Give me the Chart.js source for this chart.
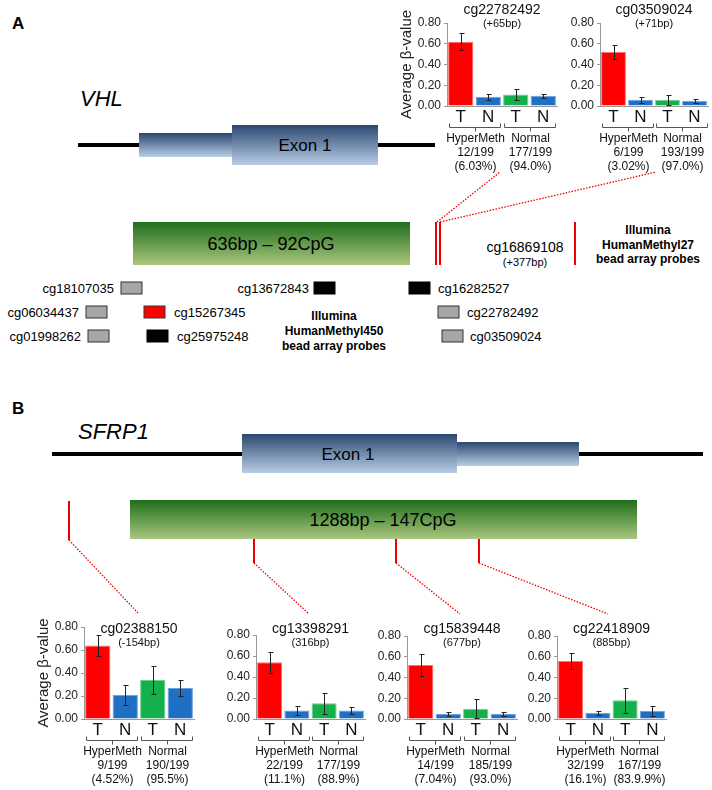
<!DOCTYPE html>
<html>
<head>
<meta charset="utf-8">
<script src="https://cdn.jsdelivr.net/npm/chart.js@4.4.0/dist/chart.umd.min.js"></script>
<style>
  html, body { margin: 0; padding: 0; background: #fff; }
  #page { position: relative; width: 712px; height: 790px; overflow: hidden; font-family: 'Liberation Sans', Arial, sans-serif; }
  #diagram { position: absolute; left: 0; top: 0; }
  canvas.probe { position: absolute; }
</style>
</head>
<body>
<div id="page">
<svg id="diagram" width="712" height="790" xmlns="http://www.w3.org/2000/svg" font-family="Liberation Sans, Arial, sans-serif">
  <defs>
    <linearGradient id="exonGrad" x1="0" y1="0" x2="0" y2="1">
      <stop offset="0" stop-color="#2b4870"/>
      <stop offset="1" stop-color="#b9cde6"/>
    </linearGradient>
    <linearGradient id="cpgGrad" x1="0" y1="0" x2="0" y2="1">
      <stop offset="0" stop-color="#1f6e1c"/>
      <stop offset="1" stop-color="#a9c67e"/>
    </linearGradient>
  </defs>

  <!-- panel A : VHL -->
  <text x="12" y="29" font-size="17" font-weight="bold">A</text>
  <text x="80" y="106" font-size="22" font-style="italic">VHL</text>
  <line x1="78" y1="145" x2="435" y2="145" stroke="#000" stroke-width="4"/>
  <rect x="139" y="133" width="93" height="24" fill="url(#exonGrad)"/>
  <rect x="232" y="125" width="146" height="40" fill="url(#exonGrad)"/>
  <text x="305" y="151" font-size="17" text-anchor="middle">Exon 1</text>

  <rect x="133" y="222" width="277" height="43" fill="url(#cpgGrad)"/>
  <text x="271" y="250" font-size="18" text-anchor="middle">636bp – 92CpG</text>
  <line x1="436" y1="222" x2="436" y2="265" stroke="#e00" stroke-width="2"/>
  <line x1="440" y1="222" x2="440" y2="265" stroke="#e00" stroke-width="2"/>
  <line x1="437" y1="222" x2="500" y2="172" stroke="#e00" stroke-width="1.3" stroke-dasharray="1.5,1.5"/>
  <line x1="440" y1="222" x2="656" y2="172" stroke="#e00" stroke-width="1.3" stroke-dasharray="1.5,1.5"/>
  <text x="525" y="252" font-size="14" text-anchor="middle">cg16869108</text>
  <text x="525" y="266" font-size="11" text-anchor="middle">(+377bp)</text>
  <line x1="575" y1="222" x2="575" y2="265" stroke="#e00" stroke-width="2"/>
  <g font-size="12" font-weight="bold" text-anchor="middle">
    <text x="648" y="234">Illumina</text>
    <text x="648" y="249">HumanMethyl27</text>
    <text x="648" y="263">bead array probes</text>
  </g>

  <g font-size="13">
    <text x="114" y="293" text-anchor="end">cg18107035</text>
    <rect x="121" y="282" width="21" height="12" fill="#a6a6a6" stroke="#333"/>
    <text x="309" y="293" text-anchor="end">cg13672843</text>
    <rect x="314" y="282" width="21" height="12" fill="#000" stroke="#000"/>
    <rect x="409" y="282" width="21" height="12" fill="#000" stroke="#000"/>
    <text x="438" y="293">cg16282527</text>

    <text x="79" y="317" text-anchor="end">cg06034437</text>
    <rect x="86" y="306" width="21" height="12" fill="#a6a6a6" stroke="#333"/>
    <rect x="144" y="306" width="21" height="12" fill="#f00" stroke="#333"/>
    <text x="174" y="317">cg15267345</text>
    <rect x="438" y="306" width="21" height="12" fill="#a6a6a6" stroke="#333"/>
    <text x="467" y="317">cg22782492</text>

    <text x="81" y="341" text-anchor="end">cg01998262</text>
    <rect x="88" y="330" width="21" height="12" fill="#a6a6a6" stroke="#333"/>
    <rect x="147" y="330" width="21" height="12" fill="#000" stroke="#000"/>
    <text x="177" y="341">cg25975248</text>
    <rect x="442" y="330" width="21" height="12" fill="#a6a6a6" stroke="#333"/>
    <text x="470" y="341">cg03509024</text>
  </g>
  <g font-size="12" font-weight="bold" text-anchor="middle">
    <text x="334" y="320">Illumina</text>
    <text x="334" y="335">HumanMethyl450</text>
    <text x="334" y="350">bead array probes</text>
  </g>

  <!-- panel B : SFRP1 -->
  <text x="12" y="414" font-size="17" font-weight="bold">B</text>
  <text x="78" y="439" font-size="22" font-style="italic">SFRP1</text>
  <line x1="52" y1="454" x2="703" y2="454" stroke="#000" stroke-width="4"/>
  <rect x="242" y="434" width="215" height="39" fill="url(#exonGrad)"/>
  <rect x="457" y="442" width="122" height="24" fill="url(#exonGrad)"/>
  <text x="348" y="460" font-size="17" text-anchor="middle">Exon 1</text>

  <rect x="130" y="500" width="507" height="39" fill="url(#cpgGrad)"/>
  <text x="383" y="526" font-size="18" text-anchor="middle">1288bp – 147CpG</text>
  <g stroke="#e00" stroke-width="2">
    <line x1="69" y1="501" x2="69" y2="540"/>
    <line x1="254" y1="539" x2="254" y2="563"/>
    <line x1="396" y1="539" x2="396" y2="563"/>
    <line x1="479" y1="539" x2="479" y2="563"/>
  </g>
  <g stroke="#e00" stroke-width="1.3" stroke-dasharray="1.5,1.5">
    <line x1="69" y1="540" x2="138" y2="613"/>
    <line x1="254" y1="563" x2="308" y2="613"/>
    <line x1="396" y1="563" x2="460" y2="614"/>
    <line x1="479" y1="563" x2="608" y2="614"/>
  </g>
</svg>
</div>

<script>
// bar chart data, one entry per probe
const arms = ['T', 'N', 'T', 'N'];
const probeIds = ['cg22782492', 'cg03509024', 'cg02388150', 'cg13398291', 'cg15839448', 'cg22418909'];
const probeOffsets = ['(+65bp)', '(+71bp)', '(-154bp)', '(316bp)', '(677bp)', '(885bp)'];
const meanBeta = [
    [0.62, 0.09, 0.11, 0.10],
    [0.52, 0.06, 0.06, 0.05],
    [0.64, 0.21, 0.34, 0.27],
    [0.54, 0.08, 0.15, 0.08],
    [0.52, 0.05, 0.10, 0.05],
    [0.56, 0.06, 0.18, 0.08]
];
const errBeta = [
    [0.08, 0.03, 0.05, 0.02],
    [0.07, 0.03, 0.05, 0.02],
    [0.09, 0.09, 0.12, 0.07],
    [0.10, 0.04, 0.10, 0.03],
    [0.11, 0.02, 0.09, 0.02],
    [0.08, 0.02, 0.12, 0.05]
];
const groupNames = ['HyperMeth', 'Normal'];
const hyperCounts = ['12/199', '6/199', '9/199', '22/199', '14/199', '32/199'];
const hyperPct = ['(6.03%)', '(3.02%)', '(4.52%)', '(11.1%)', '(7.04%)', '(16.1%)'];
const normalCounts = ['177/199', '193/199', '190/199', '177/199', '185/199', '167/199'];
const normalPct = ['(94.0%)', '(97.0%)', '(95.5%)', '(88.9%)', '(93.0%)', '(83.9.9%)'];
const yTicks = [0.00, 0.20, 0.40, 0.60, 0.80];

// where each little chart sits on the page (plot area edges)
const boxes = [
    { left: 447, right: 557, top: 23, bottom: 106, axisW: 49, yTitle: true, titleY: 10, subY: 24 },
    { left: 600, right: 708, top: 23, bottom: 106, axisW: 30, yTitle: false, titleY: 10, subY: 24 },
    { left: 84, right: 194, top: 627, bottom: 719, axisW: 49, yTitle: true, titleY: 629, subY: 643 },
    { left: 256, right: 365, top: 635, bottom: 719, axisW: 30, yTitle: false, titleY: 629, subY: 643 },
    { left: 407, right: 517, top: 636, bottom: 719, axisW: 30, yTitle: false, titleY: 629, subY: 643 },
    { left: 557, right: 666, top: 636, bottom: 719, axisW: 30, yTitle: false, titleY: 629, subY: 643 }
];
const armColours = ['#ff0000', '#1f6fc4', '#14b04c', '#1f6fc4'];
const armEdges = ['#ff7070', '#6aa2dc', '#6fd08e', '#6aa2dc'];
const FONT = "'Liberation Sans', Arial, sans-serif";
const PAD_TOP = 20;
const AXIS_H = 70;

Chart.defaults.font.family = FONT;

const probeDecor = {
    id: 'probeDecor',
    afterDatasetsDraw(chart, args, opts) {
        // error bars
        const i = opts.probe;
        const ctx = chart.ctx;
        const y = chart.scales.y;
        const meta = chart.getDatasetMeta(0);
        ctx.save();
        ctx.strokeStyle = '#222';
        ctx.lineWidth = 1;
        meta.data.forEach((bar, k) => {
            const v = meanBeta[i][k];
            const e = errBeta[i][k];
            const x = Math.round(bar.x) + 0.5;
            const t = Math.round(y.getPixelForValue(v + e)) + 0.5;
            const b = Math.round(y.getPixelForValue(v - e)) + 0.5;
            ctx.beginPath();
            ctx.moveTo(x, t); ctx.lineTo(x, b);
            ctx.moveTo(x - 2, t); ctx.lineTo(x + 3, t);
            ctx.moveTo(x - 2, b); ctx.lineTo(x + 3, b);
            ctx.stroke();
        });
        ctx.restore();
    },
    afterDraw(chart, args, opts) {
        const i = opts.probe;
        const box = boxes[i];
        const ctx = chart.ctx;
        const a = chart.chartArea;
        const xs = chart.scales.x;
        const cx = (a.left + a.right) / 2;
        ctx.save();
        ctx.fillStyle = '#111';
        ctx.textAlign = 'center';
        ctx.textBaseline = 'middle';
        ctx.font = '14px ' + FONT;
        ctx.fillText(probeIds[i], cx, box.titleY - box.top + a.top);
        ctx.font = '11px ' + FONT;
        ctx.fillText(probeOffsets[i], cx, box.subY - box.top + a.top);

        // brackets under T/N pairs
        ctx.strokeStyle = '#555';
        ctx.lineWidth = 1;
        const yb = Math.round(a.bottom + 21) + 0.5;
        const lines = [
            [groupNames[0], hyperCounts[i], hyperPct[i]],
            [groupNames[1], normalCounts[i], normalPct[i]]
        ];
        for (let g = 0; g < 2; g++) {
            const x0 = Math.round(xs.getPixelForValue(2 * g) - 12) + 0.5;
            const x1 = Math.round(xs.getPixelForValue(2 * g + 1) + 12) + 0.5;
            const mid = Math.round((x0 + x1) / 2) + 0.5;
            ctx.beginPath();
            ctx.moveTo(x0, yb - 4); ctx.lineTo(x0, yb); ctx.lineTo(x1, yb); ctx.lineTo(x1, yb - 4);
            ctx.moveTo(mid, yb); ctx.lineTo(mid, yb + 4);
            ctx.stroke();
            ctx.font = '12px ' + FONT;
            lines[g].forEach((txt, r) => {
                ctx.fillText(txt, mid, a.bottom + 33 + r * 14);
            });
        }
        ctx.restore();
    }
};

boxes.forEach((box, i) => {
    const canvas = document.createElement('canvas');
    canvas.className = 'probe';
    const w = box.axisW + (box.right - box.left) + 2;
    const h = PAD_TOP + (box.bottom - box.top) + AXIS_H;
    canvas.width = w;
    canvas.height = h;
    canvas.style.width = w + 'px';
    canvas.style.height = h + 'px';
    canvas.style.left = (box.left - box.axisW) + 'px';
    canvas.style.top = (box.top - PAD_TOP) + 'px';
    document.getElementById('page').appendChild(canvas);

    new Chart(canvas, {
        type: 'bar',
        data: {
            labels: arms,
            datasets: [{
                data: meanBeta[i],
                backgroundColor: armColours,
                borderColor: armEdges,
                borderWidth: 1,
                barPercentage: 0.92,
                categoryPercentage: 1
            }]
        },
        options: {
            responsive: false,
            animation: false,
            devicePixelRatio: 1,
            layout: { padding: { top: PAD_TOP, right: 2, left: 0, bottom: 0 } },
            plugins: {
                legend: { display: false },
                tooltip: { enabled: false },
                probeDecor: { probe: i }
            },
            scales: {
                x: {
                    grid: { display: false, drawTicks: false },
                    border: { display: true, color: '#999' },
                    ticks: { font: { size: 17 }, color: '#111', padding: 1 },
                    afterFit: s => { s.height = AXIS_H; }
                },
                y: {
                    min: 0,
                    max: 0.8,
                    afterBuildTicks: s => { s.ticks = yTicks.map(v => ({ value: v })); },
                    ticks: { callback: v => v.toFixed(2), font: { size: 12 }, color: '#222', padding: 3 },
                    grid: { display: true, drawOnChartArea: false, drawTicks: true, tickLength: 3, color: '#999' },
                    border: { display: true, color: '#999' },
                    title: { display: box.yTitle, text: 'Average β-value', font: { size: 15 }, color: '#222', padding: 0 },
                    afterFit: s => { s.width = box.axisW; }
                }
            }
        },
        plugins: [probeDecor]
    });
});
</script>
</body>
</html>
